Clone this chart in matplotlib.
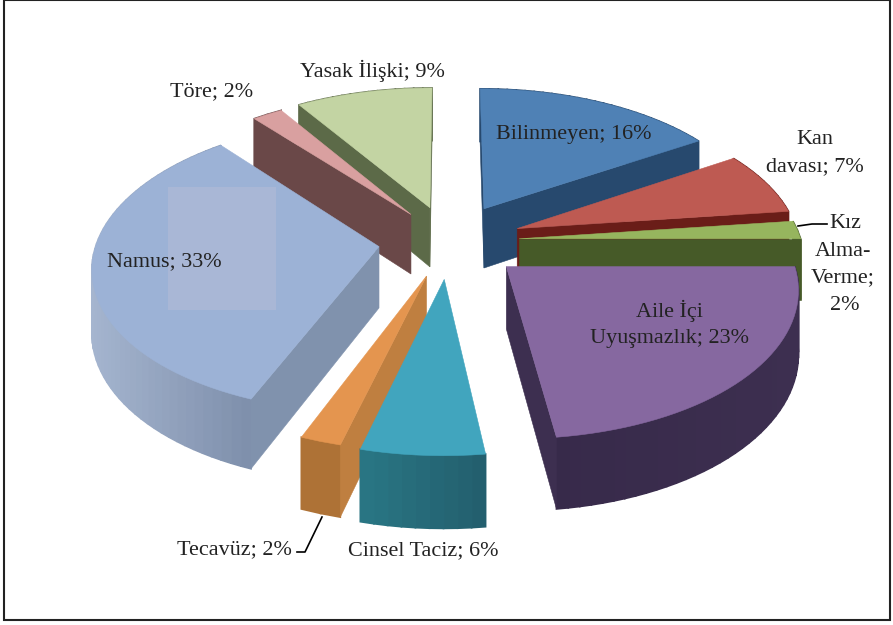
import numpy as np
import matplotlib
matplotlib.use("Agg")
import matplotlib.pyplot as plt
from matplotlib.patches import Polygon, Rectangle

categories = ["Bilinmeyen", "Kan davası", "Kız Alma-Verme", "Aile İçi Uyuşmazlık",
              "Cinsel Taciz", "Tecavüz", "Namus", "Töre", "Yasak İlişki"]
values = [16, 7, 2, 23, 6, 2, 33, 2, 9]

# style of each slice, same order as categories
explode = [0.265, 0.26, 0.25, 0.265, 0.26, 0.25, 0.25, 0.235, 0.25]
top_colors = ["#4F81B5", "#BE5A52", "#96B55E", "#8668A0", "#41A5BE", "#E4954F", "#9CB2D6", "#D9A0A0", "#C3D4A3"]
wall_colors = ["#27496E", "#6A1D18", "#465A28", "#3D2F50", "#2A7080", "#BF7F40", "#8092AD", "#6A4848", "#5C6A48"]
arc_left = ["#27496E", "#6A1D18", "#465A28", "#372A4A", "#2A7886", "#AE7236", "#A5B5CF", "#6A4848", "#5C6A48"]
arc_right = ["#27496E", "#6A1D18", "#465A28", "#3D2F50", "#235F6E", "#AE7236", "#7F90AC", "#6A4848", "#5C6A48"]
draw_order = [0, 8, 7, 6, 1, 2, 3, 5, 4]

CX, CY = 449, 241
SCALE = 282
TILT = 0.507
PERSP = 0.128
DEPTH = 61


def project(u, v, z=0):
    p = 1 / (1 + PERSP * v)
    return CX + SCALE * u * p, CY - SCALE * TILT * v * p + DEPTH * z * p


def mix(a, b, t):
    ca, cb = np.array(matplotlib.colors.to_rgb(a)), np.array(matplotlib.colors.to_rgb(b))
    return tuple(ca + (cb - ca) * t)


fig = plt.figure(figsize=(8.93, 6.25), dpi=100)
ax = fig.add_axes([0, 0, 1, 1])
ax.set_xlim(0, 893)
ax.set_ylim(625, 0)
ax.axis("off")

ax.add_patch(Rectangle((4, 0), 886, 620, fill=False, ec="#222222", lw=1.5))

edges = np.cumsum([0] + values) / sum(values) * 2 * np.pi

for i in draw_order:
    a0, a1 = edges[i], edges[i + 1]
    mid = (a0 + a1) / 2
    ou, ov = explode[i] * np.sin(mid), explode[i] * np.cos(mid)
    ang = np.linspace(a0, a1, max(int(np.degrees(a1 - a0) / 2), 3))
    us, vs = ou + np.sin(ang), ov + np.cos(ang)

    # outer wall, in strips for the gradient (left to right on screen)
    xs = [project(u, v)[0] for u, v in zip(us, vs)]
    for k in range(len(ang) - 1):
        quad = [project(us[k], vs[k]), project(us[k + 1], vs[k + 1]),
                project(us[k + 1], vs[k + 1], 1), project(us[k], vs[k], 1)]
        t = (xs[k] - min(xs)) / (max(xs) - min(xs))
        col = mix(arc_left[i], arc_right[i], t)
        ax.add_patch(Polygon(quad, fc=col, ec=col, lw=1.2))

    # flat walls, only the ones that face the viewer
    tip = project(ou, ov)
    for a, other in ((a0, a1), (a1, a0)):
        p = project(ou + np.sin(a), ov + np.cos(a))
        q = project(ou + np.sin(other), ov + np.cos(other))
        if abs(p[0] - tip[0]) < 1:
            continue
        line_y = tip[1] + (p[1] - tip[1]) * (q[0] - tip[0]) / (p[0] - tip[0])
        if q[1] < line_y:
            wall = [tip, p, project(ou + np.sin(a), ov + np.cos(a), 1), project(ou, ov, 1)]
            ax.add_patch(Polygon(wall, fc=wall_colors[i], ec=wall_colors[i], lw=0.4))

    pts = [tip] + [project(u, v) for u, v in zip(us, vs)]
    ax.add_patch(Polygon(pts, fc=top_colors[i], ec=top_colors[i], lw=0.4))

# pale square that sits on the Namus slice
ax.add_patch(Rectangle((168, 187), 108, 123, fc="#A9B7D6", ec="none"))

# leader lines
ax.plot([798, 812, 827], [226, 224, 224], color="black", lw=1.2)
ax.plot([322, 305, 297], [517, 552, 552], color="black", lw=1.2)

font = dict(family="Liberation Serif", fontsize=15.9, color="#222222", ha="center", va="center", linespacing=1.15)
ax.text(574, 134, "Bilinmeyen; 16%", **font)
ax.text(815, 140, "Kan", **font)
ax.text(815, 167, "davası; 7%", **font)
ax.text(845, 224, "Kız", **font)
ax.text(843, 251, "Alma-", **font)
ax.text(843, 278, "Verme;", **font)
ax.text(845, 305, "2%", **font)
ax.text(669, 311, "Aile İçi", **font)
ax.text(669, 339, "Uyuşmazlık; 23%", **font)
ax.text(423, 551, "Cinsel Taciz; 6%", **font)
ax.text(234, 550, "Tecavüz; 2%", **font)
ax.text(164, 262, "Namus; 33%", **font)
ax.text(212, 92, "Töre; 2%", **font)
ax.text(372, 71, "Yasak İlişki; 9%", **font)

plt.savefig("out.png", dpi=100)
